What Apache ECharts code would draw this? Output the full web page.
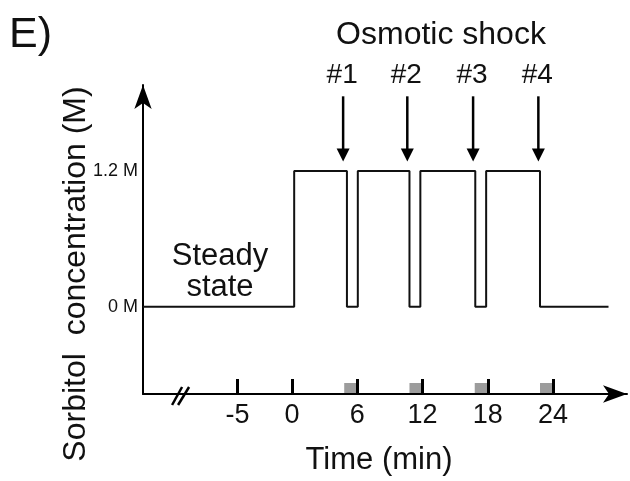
<!DOCTYPE html>
<html>
<head>
<meta charset="utf-8">
<script src="https://cdn.jsdelivr.net/npm/echarts@6/dist/echarts.min.js"></script>
<style>
  html, body { margin: 0; padding: 0; background: #fff; }
  #chart { width: 630px; height: 481px; }
</style>
</head>
<body>
<div id="chart"></div>
<script>
// Time axis (minutes) tick marks and labels
const timeTicks = [-5, 0, 6, 12, 18, 24];
// Concentration axis labels (M)
const concTicks = [0, 1.2];
const concLabels = ['0 M', '1.2 M'];

// Sorbitol protocol: the time at which each level starts, and the level itself (M)
const switchTimes = [-13.7, 0.2, 5.05, 6.05, 10.8, 11.8, 16.85, 17.85, 22.8, 29.1];
const levels      = [0,     1.2, 0,    1.2,  0,    1.2,  0,     1.2,   0,    0];

// Osmotic shocks: time of each shock and its label
const shockTimes  = [4.7, 10.6, 16.65, 22.65];
const shockLabels = ['#1', '#2', '#3', '#4'];

// Sampling windows marked on the time axis (start, end in minutes)
const sampleStart = [4.8, 10.8, 16.8, 22.8];
const sampleEnd   = [6, 12, 18, 24];

// Where the time axis is broken
const axisBreakAt = [-10.2];

const FONT = "'Liberation Sans', Arial, Helvetica, sans-serif";
const INK = '#111';

const protocol = switchTimes.map((t, i) => [t, levels[i]]);
const windows = sampleStart.map((s, i) => [s, sampleEnd[i]]);

const chart = echarts.init(document.getElementById('chart'), null, { renderer: 'canvas' });

chart.setOption({
  animation: false,
  grid: { left: 143, right: 3, top: 85, bottom: 84 },
  xAxis: {
    type: 'value',
    min: -13.7,
    max: 30.8,
    splitLine: { show: false },
    axisLine: {
      onZero: false,
      symbol: ['none', 'arrow'],
      symbolSize: [13, 24],
      lineStyle: { color: '#000', width: 2 }
    },
    axisTick: {
      inside: true,
      length: 15,
      customValues: timeTicks,
      lineStyle: { color: '#000', width: 3 }
    },
    axisLabel: {
      customValues: timeTicks,
      fontSize: 27,
      fontFamily: FONT,
      color: INK,
      margin: 8
    },
    name: 'Time (min)',
    nameLocation: 'middle',
    nameGap: 51,
    nameTextStyle: { fontSize: 31, fontFamily: FONT, color: INK, padding: [0, 12, 0, 0] }
  },
  yAxis: {
    type: 'value',
    min: -0.77,
    max: 1.96,
    splitLine: { show: false },
    axisLine: {
      onZero: false,
      symbol: ['none', 'arrow'],
      symbolSize: [13, 24],
      lineStyle: { color: '#000', width: 2 }
    },
    axisTick: { show: false },
    axisLabel: {
      customValues: concTicks,
      formatter: v => concLabels[concTicks.indexOf(v)],
      fontSize: 18,
      fontFamily: FONT,
      color: INK,
      margin: 5
    }
  },
  graphic: [
    {
      type: 'text', left: 9, top: 14,
      style: { text: 'E)', fontSize: 43, fontFamily: FONT, fill: INK }
    },
    {
      type: 'text', x: 441, y: 35,
      style: { text: 'Osmotic shock', fontSize: 32, fontFamily: FONT, fill: INK, align: 'center', verticalAlign: 'middle' }
    },
    {
      type: 'text', x: 220, y: 272,
      style: { text: 'Steady\nstate', fontSize: 31, lineHeight: 31, fontFamily: FONT, fill: INK, align: 'center', verticalAlign: 'middle' }
    },
    {
      type: 'text', x: 76, y: 274, rotation: Math.PI / 2,
      style: { text: 'Sorbitol  concentration (M)', fontSize: 32, fontFamily: FONT, fill: INK, align: 'center', verticalAlign: 'middle' }
    }
  ],
  series: [
    {
      // concentration protocol
      type: 'line',
      step: 'end',
      data: protocol,
      symbol: 'none',
      lineStyle: { color: '#111', width: 2 },
      z: 3
    },
    {
      // sampling windows on the time axis
      type: 'custom',
      data: windows,
      z: -1,
      renderItem: (params, api) => {
        const x1 = api.coord([api.value(0), 0])[0];
        const x2 = api.coord([api.value(1), 0])[0];
        const base = params.coordSys.y + params.coordSys.height;
        return {
          type: 'rect',
          shape: { x: x1, y: base - 11, width: x2 - x1, height: 11 },
          style: { fill: '#9c9c9c' }
        };
      }
    },
    {
      // shock arrows with their numbers
      type: 'custom',
      data: shockTimes.map(t => [t]),
      clip: false,
      renderItem: (params, api) => {
        const x = api.coord([api.value(0), 0])[0];
        const yTop = api.coord([0, 1.86])[1];
        const yTip = api.coord([0, 1.285])[1];
        const yLab = api.coord([0, 2.05])[1];
        return {
          type: 'group',
          children: [
            { type: 'line', shape: { x1: x, y1: yTop, x2: x, y2: yTip - 10 }, style: { stroke: '#000', lineWidth: 2.5 } },
            { type: 'polygon', shape: { points: [[x - 6.5, yTip - 13], [x + 6.5, yTip - 13], [x, yTip]] }, style: { fill: '#000' } },
            { type: 'text', x: x - 1, y: yLab, style: { text: shockLabels[params.dataIndex], fontSize: 28, fontFamily: FONT, fill: INK, align: 'center', verticalAlign: 'middle' } }
          ]
        };
      }
    },
    {
      // break marks on the time axis
      type: 'custom',
      data: axisBreakAt.map(t => [t]),
      clip: false,
      renderItem: (params, api) => {
        const x = api.coord([api.value(0), 0])[0];
        const base = params.coordSys.y + params.coordSys.height;
        const st = { stroke: '#000', lineWidth: 2.5 };
        return {
          type: 'group',
          children: [
            { type: 'line', shape: { x1: x - 9, y1: base + 11, x2: x + 1, y2: base - 7 }, style: st },
            { type: 'line', shape: { x1: x - 3, y1: base + 11, x2: x + 8, y2: base - 7 }, style: st }
          ]
        };
      }
    }
  ]
});
</script>
</body>
</html>
